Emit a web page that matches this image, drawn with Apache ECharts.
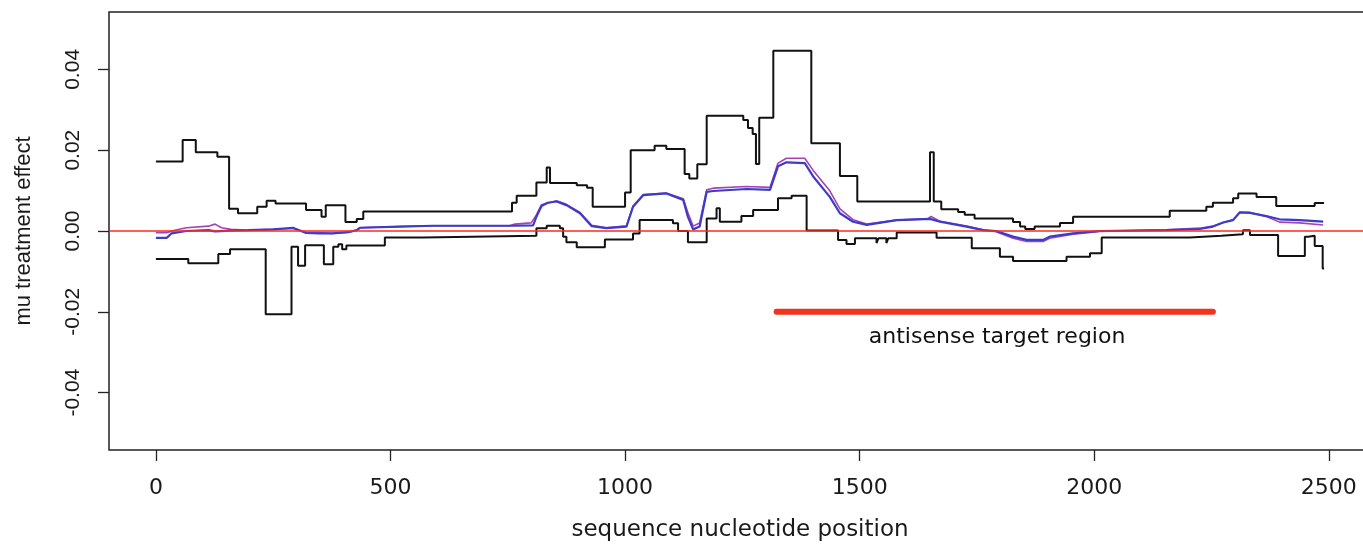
<!DOCTYPE html>
<html>
<head>
<meta charset="utf-8">
<title>mu treatment effect</title>
<script src="https://cdn.jsdelivr.net/npm/echarts@6/dist/echarts.min.js"></script>
<style>
  html, body { margin: 0; padding: 0; background: #fff; }
  #chart { width: 1363px; height: 544px; }
</style>
</head>
<body>
<div id="chart"></div>
<script>
// axis ticks
const posTicks = [0, 500, 1000, 1500, 2000, 2500]
const effectTicks = [-0.04, -0.02, 0, 0.02, 0.04]
const seqEnd = 2490

// upper band (step line): value holds from x until next x
const upperX = [0, 57, 85, 131, 156, 175, 216, 236, 255, 320, 353, 362, 404, 428, 442, 759, 769, 811, 833, 840,
  897, 919, 931, 1000, 1012, 1063, 1088, 1127, 1137, 1154, 1174, 1252, 1262, 1272, 1279, 1286, 1316, 1397, 1458, 1495,
  1650, 1658, 1674, 1710, 1724, 1745, 1827, 1842, 1853, 1873, 1927, 1955, 2161, 2239, 2253, 2296, 2307, 2346, 2388, 2470]
const upperY = [0.0172, 0.0225, 0.0195, 0.0184, 0.0055, 0.0044, 0.0060, 0.0075, 0.0068, 0.0052, 0.0035, 0.0064, 0.0022, 0.0030, 0.0048, 0.0070, 0.0087, 0.0120, 0.0157, 0.0119,
  0.0113, 0.0107, 0.0060, 0.0095, 0.0200, 0.0211, 0.0203, 0.0141, 0.0130, 0.0165, 0.0285, 0.0275, 0.0255, 0.0240, 0.0166, 0.0280, 0.0446, 0.0217, 0.0136, 0.0073,
  0.0195, 0.0073, 0.0054, 0.0047, 0.0040, 0.0031, 0.0022, 0.0011, 0.0005, 0.0011, 0.0020, 0.0035, 0.0050, 0.0060, 0.0070, 0.0081, 0.0093, 0.0084, 0.0062, 0.0069]

// lower band (step line)
const lowerX = [0, 69, 133, 158, 234, 289, 303, 318, 358, 378, 389, 397, 406, 488, 570, 811, 833, 861, 868, 875,
  897, 957, 1017, 1031, 1102, 1113, 1134, 1174, 1195, 1202, 1248, 1273, 1326, 1355, 1387, 1454, 1472, 1490, 1536, 1540,
  1557, 1561, 1579, 1664, 1739, 1799, 1827, 1941, 1991, 2016, 2204, 2271, 2317, 2332, 2392, 2449, 2456, 2470, 2487]
const lowerY = [-0.0069, -0.0080, -0.0057, -0.0045, -0.0206, -0.0039, -0.0086, -0.0035, -0.0082, -0.0039, -0.0033, -0.0045, -0.0036, -0.0016, -0.0012, 0.0007, 0.0013, 0.0007, -0.0014, -0.0028,
  -0.0040, -0.0021, -0.0006, 0.0027, 0.0019, 0.0000, -0.0028, 0.0031, 0.0056, 0.0023, 0.0037, 0.0052, 0.0081, 0.0087, 0.0001, -0.0022, -0.0032, -0.0018, -0.0030, -0.0018,
  -0.0030, -0.0018, -0.0004, -0.0017, -0.0043, -0.0064, -0.0074, -0.0064, -0.0055, -0.0016, -0.0012, -0.0008, 0.0002, -0.0010, -0.0062, -0.0014, -0.0012, -0.0037, -0.0093]

// blue estimate
const meanX = [0, 23, 33, 65, 112, 126, 160, 197, 250, 292, 320, 348, 376, 410, 428, 435, 520, 591, 761, 804,
  811, 822, 835, 854, 875, 904, 929, 960, 1003, 1017, 1039, 1088, 1124, 1134, 1145, 1159, 1174, 1188, 1259, 1309,
  1326, 1344, 1383, 1401, 1436, 1458, 1486, 1515, 1579, 1650, 1671, 1728, 1763, 1791, 1827, 1856, 1891, 1905, 1955, 2012,
  2154, 2225, 2253, 2275, 2296, 2310, 2332, 2367, 2395, 2438, 2488]
const meanY = [-0.0017, -0.0017, -0.0006, 0.0000, 0.0002, -0.0001, 0.0001, 0.0002, 0.0004, 0.0008, -0.0005, -0.0006, -0.0006, -0.0003, 0.0002, 0.0008, 0.0011, 0.0013, 0.0013, 0.0014,
  0.0035, 0.0062, 0.0070, 0.0073, 0.0064, 0.0044, 0.0012, 0.0007, 0.0011, 0.0060, 0.0089, 0.0093, 0.0077, 0.0035, 0.0004, 0.0011, 0.0097, 0.0099, 0.0104, 0.0102,
  0.0160, 0.0170, 0.0168, 0.0135, 0.0085, 0.0044, 0.0023, 0.0015, 0.0027, 0.0030, 0.0023, 0.0011, 0.0002, 0.0000, -0.0014, -0.0022, -0.0022, -0.0014, -0.0006, 0.0000,
  0.0002, 0.0005, 0.0011, 0.0021, 0.0027, 0.0046, 0.0045, 0.0037, 0.0029, 0.0027, 0.0023]

// purple estimate
const altX = [0, 23, 40, 65, 112, 126, 140, 160, 197, 250, 292, 320, 348, 376, 410, 428, 435, 520, 591, 754,
  765, 800, 811, 822, 854, 875, 904, 929, 960, 1003, 1017, 1039, 1088, 1124, 1134, 1145, 1159, 1174, 1188, 1259,
  1309, 1326, 1344, 1383, 1401, 1436, 1458, 1486, 1515, 1579, 1645, 1652, 1671, 1728, 1763, 1791, 1827, 1856, 1891, 1905,
  1955, 2012, 2154, 2225, 2253, 2275, 2296, 2310, 2332, 2367, 2395, 2438, 2488]
const altY = [-0.0004, -0.0004, 0.0002, 0.0008, 0.0012, 0.0017, 0.0008, 0.0004, 0.0002, 0.0004, 0.0006, -0.0003, -0.0004, -0.0006, -0.0003, 0.0002, 0.0008, 0.0011, 0.0013, 0.0013,
  0.0017, 0.0020, 0.0040, 0.0065, 0.0075, 0.0066, 0.0046, 0.0014, 0.0008, 0.0013, 0.0062, 0.0090, 0.0094, 0.0080, 0.0045, 0.0012, 0.0020, 0.0102, 0.0106, 0.0110,
  0.0108, 0.0168, 0.0180, 0.0180, 0.0150, 0.0100, 0.0055, 0.0028, 0.0017, 0.0027, 0.0030, 0.0036, 0.0024, 0.0012, 0.0003, -0.0002, -0.0018, -0.0026, -0.0026, -0.0018,
  -0.0008, -0.0001, 0.0003, 0.0007, 0.0012, 0.0021, 0.0028, 0.0046, 0.0046, 0.0036, 0.0022, 0.0020, 0.0015]

// antisense target region
const targetStart = 1323
const targetEnd = 2253
const targetLevel = -0.02
const targetLabel = 'antisense target region'
const targetLabelPos = [1793, -0.02625]

function stepData(xs, ys) {
  const d = xs.map((x, i) => [x, ys[i]])
  d.push([seqEnd, ys[ys.length - 1]])
  return d
}
const pairs = (xs, ys) => xs.map((x, i) => [x, ys[i]])

const chart = echarts.init(document.getElementById('chart'))
const tickFont = { fontFamily: 'Liberation Sans', fontSize: 21, color: '#1a1a1a' }
const wideFont = { fontFamily: 'DejaVu Sans', fontSize: 22, color: '#1a1a1a' }

chart.setOption({
  animation: false,
  backgroundColor: '#fff',
  grid: {
    left: 109,
    right: -8,
    top: 12,
    bottom: 94,
    outerBoundsMode: 'none',
    show: true,
    borderColor: '#222',
    borderWidth: 1.5
  },
  xAxis: {
    type: 'value',
    min: -100,
    max: 2590,
    splitLine: { show: false },
    axisLine: { show: false, onZero: false },
    axisTick: { show: true, length: 11, customValues: posTicks, lineStyle: { color: '#222', width: 1.3 } },
    axisLabel: { customValues: posTicks, margin: 27, formatter: v => String(v), ...wideFont },
    name: 'sequence nucleotide position',
    nameLocation: 'middle',
    nameGap: 69,
    nameTextStyle: { ...wideFont, fontSize: 23 }
  },
  yAxis: {
    type: 'value',
    min: -0.0542,
    max: 0.0542,
    splitLine: { show: false },
    axisLine: { show: false, onZero: false },
    axisTick: { show: true, length: 11, customValues: effectTicks, lineStyle: { color: '#222', width: 1.3 } },
    axisLabel: {
      customValues: effectTicks,
      rotate: 90,
      margin: 25,
      formatter: v => v.toFixed(2),
      ...tickFont
    },
    name: 'mu treatment effect',
    nameLocation: 'middle',
    nameRotate: 90,
    nameGap: 74,
    nameTextStyle: { ...tickFont, fontSize: 22 }
  },
  series: [
    {
      type: 'line',
      step: 'end',
      data: stepData(upperX, upperY),
      symbol: 'none',
      lineStyle: { color: '#111', width: 2 },
      silent: true
    },
    {
      type: 'line',
      step: 'end',
      data: stepData(lowerX, lowerY),
      symbol: 'none',
      lineStyle: { color: '#111', width: 2 },
      silent: true
    },
    {
      type: 'line',
      data: pairs(altX, altY),
      symbol: 'none',
      lineStyle: { color: '#a842b4', width: 1.6 },
      silent: true
    },
    {
      type: 'line',
      data: pairs(meanX, meanY),
      symbol: 'none',
      lineStyle: { color: '#3c3cc8', width: 2.2 },
      silent: true,
      markLine: {
        silent: true,
        symbol: ['none', 'none'],
        label: { show: false },
        lineStyle: { color: '#ff2a1a', width: 1.5, type: 'solid' },
        data: [{ yAxis: 0 }]
      }
    },
    {
      type: 'line',
      data: [[targetStart, targetLevel], [targetEnd, targetLevel]],
      symbol: 'none',
      lineStyle: { color: '#f0341f', width: 6, cap: 'round' },
      silent: true,
      markPoint: {
        silent: true,
        symbol: 'circle',
        symbolSize: 0,
        data: [{ coord: targetLabelPos }],
        label: {
          show: true,
          position: 'inside',
          formatter: targetLabel,
          ...wideFont,
          color: '#111'
        }
      }
    }
  ]
})
</script>
</body>
</html>
